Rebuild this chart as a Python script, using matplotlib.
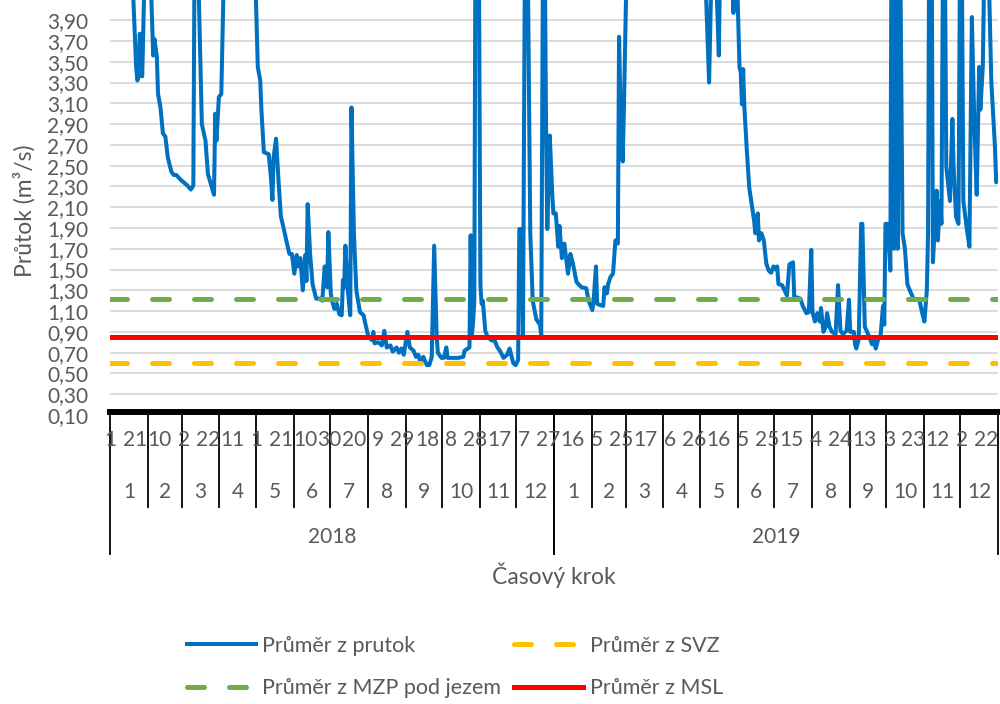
import matplotlib
matplotlib.use('Agg')
import matplotlib.pyplot as plt
import matplotlib.transforms as mtransforms
from matplotlib.lines import Line2D
import pandas as pd

# prutok: index dne od 1.1.2018 a hodnota v m3/s
# (hodnoty nad 4,1 jsou mimo graf, odhad jen kvuli tvaru spicek)
den = [0, 7, 13, 18, 21, 22, 23, 24, 25, 26, 28, 30, 33, 35, 36, 38, 39, 41, 43, 45,
       47, 50, 52, 54, 58, 63, 66, 68, 69, 71, 72, 75, 78, 80, 82, 85, 86, 87, 89, 91,
       93, 100, 106, 113, 119, 121, 123, 124, 126, 130, 132, 133, 134, 136, 138, 140,
       142, 145, 147, 149, 151, 153, 154, 156, 158, 160, 161, 162, 164, 166, 169, 172,
       174, 176, 178, 179, 181, 182, 184, 186, 188, 190, 191, 192, 193, 195, 197, 198,
       200, 202, 205, 208, 209, 210, 212, 215, 216, 217, 220, 223, 225, 227, 230, 232,
       235, 237, 239, 241, 244, 246, 249, 251, 253, 255, 257, 260, 262, 264, 266, 268,
       269, 272, 274, 276, 277, 286, 290, 291, 295, 296, 297, 298, 299, 300, 302, 304,
       305, 306, 308, 310, 313, 316, 318, 320, 323, 326, 328, 331, 333, 335, 336, 338,
       339, 341, 343, 345, 347, 350, 353, 354, 356, 358, 359, 361, 363, 364, 366, 368,
       369, 371, 373, 376, 378, 380, 383, 387, 391, 393, 396, 397, 399, 400, 402, 405,
       406, 408, 409, 411, 413, 415, 417, 418, 419, 421, 422, 424, 435, 450, 465, 480,
       489, 492, 494, 497, 500, 501, 506, 511, 512, 513, 515, 517, 518, 519, 520, 521,
       523, 525, 527, 529, 530, 532, 533, 535, 537, 539, 541, 543, 545, 547, 548, 549,
       552, 554, 556, 558, 561, 562, 567, 569, 572, 574, 576, 577, 579, 581, 583, 584,
       586, 588, 589, 591, 593, 596, 598, 600, 602, 605, 607, 608, 611, 612, 613, 615,
       617, 618, 620, 623, 626, 627, 629, 631, 633, 635, 636, 637, 639, 641, 642, 644,
       645, 647, 649, 651, 653, 655, 657, 660, 665, 667, 669, 671, 672, 673, 675, 676,
       679, 680, 682, 683, 685, 687, 690, 692, 693, 695, 697, 699, 701, 704, 706, 708,
       710, 712, 714, 715, 717, 719, 722, 724, 727, 728, 729]
prutok = [5.2, 6.1, 4.9, 4.3, 3.45, 3.32, 3.36, 3.77, 3.37, 3.36, 4.4, 5.5, 4.3, 3.56, 3.72, 3.55, 3.19, 3.06, 2.81, 2.78,
          2.58, 2.44, 2.41, 2.41, 2.36, 2.31, 2.27, 2.31, 4.5, 6.0, 4.4, 2.90, 2.74, 2.42, 2.34, 2.22, 3.00, 2.74, 3.16, 3.19,
          4.3, 6.5, 7.0, 6.0, 4.3, 3.45, 3.32, 3.03, 2.63, 2.61, 2.36, 2.17, 2.58, 2.76, 2.36, 2.01,
          1.91, 1.75, 1.65, 1.65, 1.46, 1.64, 1.53, 1.61, 1.30, 1.64, 1.39, 2.13, 1.65, 1.36, 1.22, 1.22,
          1.20, 1.53, 1.33, 1.86, 1.27, 1.20, 1.12, 1.17, 1.07, 1.06, 1.40, 1.33, 1.73, 1.30, 1.06, 3.06,
          1.85, 1.30, 1.09, 1.06, 1.00, 0.95, 0.85, 0.82, 0.90, 0.79, 0.80, 0.77, 0.91, 0.75, 0.77, 0.71,
          0.75, 0.70, 0.74, 0.68, 0.90, 0.75, 0.72, 0.66, 0.68, 0.59, 0.66, 0.58, 0.58, 0.66, 1.73, 0.87,
          0.70, 0.65, 0.65, 0.75, 0.65, 0.65, 0.66, 0.72, 0.75, 1.83, 0.87, 1.00, 1.20, 5.0, 6.5, 1.35,
          1.17, 1.20, 0.91, 0.85, 0.82, 0.81, 0.75, 0.72, 0.65, 0.68, 0.74, 0.60, 0.58, 0.63, 1.89, 1.89,
          0.87, 5.5, 4.4, 1.85, 1.20, 1.02, 0.97, 0.87, 6.0, 2.81, 1.89, 2.79, 2.24, 2.04, 2.04, 1.72,
          1.92, 1.61, 1.75, 1.46, 1.65, 1.56, 1.38, 1.33, 1.32, 1.20, 1.11, 1.19, 1.53, 1.17, 1.16, 1.15,
          1.33, 1.27, 1.36, 1.43, 1.46, 1.78, 1.75, 3.74, 3.13, 2.54, 3.07, 4.3, 6.5, 8.0, 6.5, 5.5,
          4.3, 3.30, 4.4, 4.6, 3.56, 4.4, 5.5, 4.3, 3.97, 4.3, 4.3, 3.45, 3.40, 3.09, 3.43, 3.06,
          2.65, 2.29, 2.13, 1.97, 1.85, 2.04, 1.78, 1.85, 1.78, 1.56, 1.49, 1.47, 1.53, 1.50, 1.53, 1.36,
          1.35, 1.30, 1.25, 1.55, 1.57, 1.24, 1.22, 1.15, 1.08, 1.09, 1.69, 1.09, 1.00, 1.08, 1.00, 1.13,
          0.90, 0.95, 1.08, 0.95, 0.90, 0.88, 1.35, 0.91, 0.88, 0.91, 1.21, 0.90, 0.90, 0.78, 0.74, 0.83,
          1.94, 1.94, 0.95, 0.87, 0.78, 0.83, 0.74, 0.83, 0.87, 1.15, 0.97, 1.94, 1.94, 1.49, 5.0, 1.70,
          5.0, 1.70, 4.8, 1.85, 1.70, 1.36, 1.30, 1.22, 1.20, 1.09, 1.00, 1.30, 1.85, 5.0, 4.6, 1.57,
          2.26, 1.78, 2.16, 1.94, 6.0, 2.49, 2.16, 2.95, 2.49, 2.01, 1.94, 6.0, 2.16, 1.88, 1.72, 3.93,
          2.93, 2.22, 3.45, 3.04, 3.45, 5.0, 4.3, 3.31, 2.68, 2.34, 2.41]

svz = 0.60
mzp = 1.22
msl = 0.85

dny = pd.date_range('2018-01-01', '2019-12-31', freq='D')
yticks = [0.1 + 0.2 * i for i in range(20)]

plt.rcParams['font.family'] = ['Lato', 'DejaVu Sans']
seda = '#595959'
modra = '#0070C0'
zluta = '#FFC000'
zelena = '#70AD47'
cervena = '#FF0000'

fig = plt.figure(figsize=(10, 7.04), dpi=100)
ax = fig.add_axes([0.110, 0.4105, 0.888, 0.5903])

ax.plot(den, prutok, color=modra, lw=2.9, solid_joinstyle='round', zorder=3)
ax.axhline(svz, color=zluta, lw=3.6, dashes=(3.4, 5.0), dash_capstyle='round', zorder=4)
ax.axhline(mzp, color=zelena, lw=3.6, dashes=(3.4, 5.0), dash_capstyle='round', zorder=4)
ax.axhline(msl, color=cervena, lw=3.6, zorder=4)

n = len(dny)
ax.set_xlim(-0.5, n - 0.5)
ax.set_ylim(0.1, 4.1)
ax.set_yticks(yticks)
ax.set_yticklabels(['{:.2f}'.format(v).replace('.', ',') for v in yticks])
ax.tick_params(axis='y', length=0, pad=15.8, labelsize=15, labelcolor=seda)
ax.set_xticks([])
ax.grid(axis='y', color='#D9D9D9', lw=1.3)
ax.set_axisbelow(True)
for s in ['left', 'right', 'top']:
    ax.spines[s].set_visible(False)
ax.spines['bottom'].set_linewidth(4.3)
ax.spines['bottom'].set_position(('outward', -2))

# vicerozmerna osa kategorii (den / mesic / rok) jako v Excelu
trans = mtransforms.blended_transform_factory(ax.transData, fig.transFigure)
y_osa = 1 - 415 / 704
for i in range(0, n, 20):
    ax.text(i, 1 - 440 / 704, str(dny[i].day), transform=trans, ha='center', va='center',
            fontsize=15, color=seda, clip_on=False)

skup = pd.Series(range(n), index=dny)
for (rok, mes), idx in skup.groupby([dny.year, dny.month]):
    a, b = idx.iloc[0], idx.iloc[-1]
    ax.text((a + b) / 2, 1 - 492 / 704, str(mes), transform=trans, ha='center', va='center',
            fontsize=15, color=seda, clip_on=False)
    if mes != 1:
        ax.plot([a - 0.5, a - 0.5], [y_osa, 1 - 507 / 704], transform=trans, color='black',
                lw=1.3, clip_on=False)

for rok, idx in skup.groupby(dny.year):
    a, b = idx.iloc[0], idx.iloc[-1]
    ax.text((a + b) / 2, 1 - 537 / 704, str(rok), transform=trans, ha='center', va='center',
            fontsize=15, color=seda, clip_on=False)
    for x in [a - 0.5, b + 0.5]:
        ax.plot([x, x], [y_osa, 1 - 554 / 704], transform=trans, color='black',
                lw=1.3, clip_on=False)

ax.text((n - 1) / 2, 1 - 575 / 704, 'Časový krok', transform=trans, ha='center', va='center',
        fontsize=16.5, color=seda)
fig.text(0.024, 1 - 211 / 704, 'Průtok (m³/s)', rotation=90, ha='center', va='center',
         fontsize=16.5, color=seda)

h_prutok = Line2D([], [], color=modra, lw=2.9, label='Průměr z prutok')
h_svz = Line2D([], [], color=zluta, lw=3.6, dashes=(3.4, 5.0), dash_capstyle='round', label='Průměr z SVZ')
h_mzp = Line2D([], [], color=zelena, lw=3.6, dashes=(3.4, 5.0), dash_capstyle='round',
               label='Průměr z MZP pod jezem')
h_msl = Line2D([], [], color=cervena, lw=3.6, label='Průměr z MSL')
fig.legend(handles=[h_prutok, h_mzp, h_svz, h_msl], ncol=2, loc='upper left',
           bbox_to_anchor=(0.187, 1 - 636 / 704), frameon=False, fontsize=15.5,
           handlelength=3.2, handletextpad=0.3, columnspacing=0.6, labelspacing=1.03,
           borderpad=0, borderaxespad=0, labelcolor=seda)

fig.savefig('out.png', dpi=100)
